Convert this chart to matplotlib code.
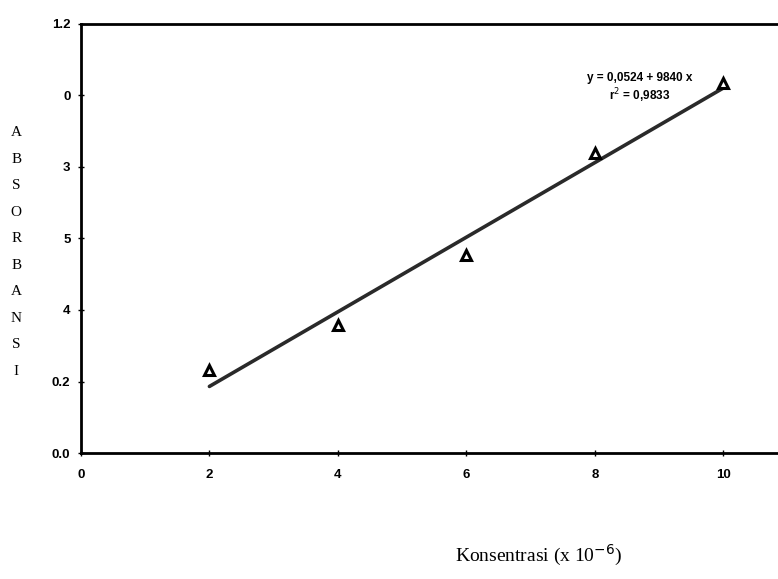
import matplotlib
matplotlib.use("Agg")
import matplotlib.pyplot as plt
import numpy as np

# values
konsentrasi = [2, 4, 6, 8, 10]
absorbansi = [0.232, 0.358, 0.554, 0.839, 1.035]
x_ticks = [0, 2, 4, 6, 8, 10]
y_ticks = [0.0, 0.2, 0.4, 0.6, 0.8, 1.0, 1.2]
# labels as they appear in the scan
y_ticklabels = ["0.0", "0.2", "4", "5", "3", "0", "1.2"]
equation = "y = 0,0524 + 9840 x"
r_squared = "r$^2$ = 0,9833"

fig = plt.figure(figsize=(7.78, 5.79), dpi=100)
ax = fig.add_axes([0.104, 0.2176, 0.896, 0.741])

slope, intercept = np.polyfit(konsentrasi, absorbansi, 1)
xs = np.array([konsentrasi[0], konsentrasi[-1]])
ax.plot(xs, intercept + slope * xs, color="#2a2a2a", lw=2.6,
        solid_capstyle="round")
ax.plot(konsentrasi, absorbansi, linestyle="none", marker="^",
        markersize=7, markerfacecolor="white", markeredgecolor="black",
        markeredgewidth=2.2)

ax.set_xlim(0, 10.85)
ax.set_ylim(0, 1.2)
ax.set_xticks(x_ticks)
ax.set_xticklabels([str(t) for t in x_ticks], fontweight="bold",
                   fontsize=9.5, family="Liberation Sans")
ax.set_yticks(y_ticks)
ax.set_yticklabels(y_ticklabels, fontweight="bold", fontsize=9.5,
                   family="Liberation Sans")
ax.tick_params(direction="inout", length=5, width=1)
ax.tick_params(axis="x", pad=9)
ax.tick_params(axis="y", pad=5)
ax.spines["right"].set_visible(False)
for side in ["left", "bottom", "top"]:
    ax.spines[side].set_linewidth(2)

ax.text(8.7, 1.05, equation, ha="center", va="center", fontsize=8.5,
        fontweight="bold", family="Liberation Sans")
ax.text(8.7, 1.0, r_squared, ha="center", va="center", fontsize=8.5,
        fontweight="bold", family="Liberation Sans")

fig.text(0.021, 0.565, "\n".join("ABSORBANSI"), ha="center", va="center",
         fontsize=11, family="Liberation Serif", linespacing=2.35)
fig.text(0.692, 0.04, "Konsentrasi (x 10$^{-6}$)", ha="center", va="center",
         fontsize=14, family="Liberation Serif")

fig.savefig("out.png", dpi=100)
